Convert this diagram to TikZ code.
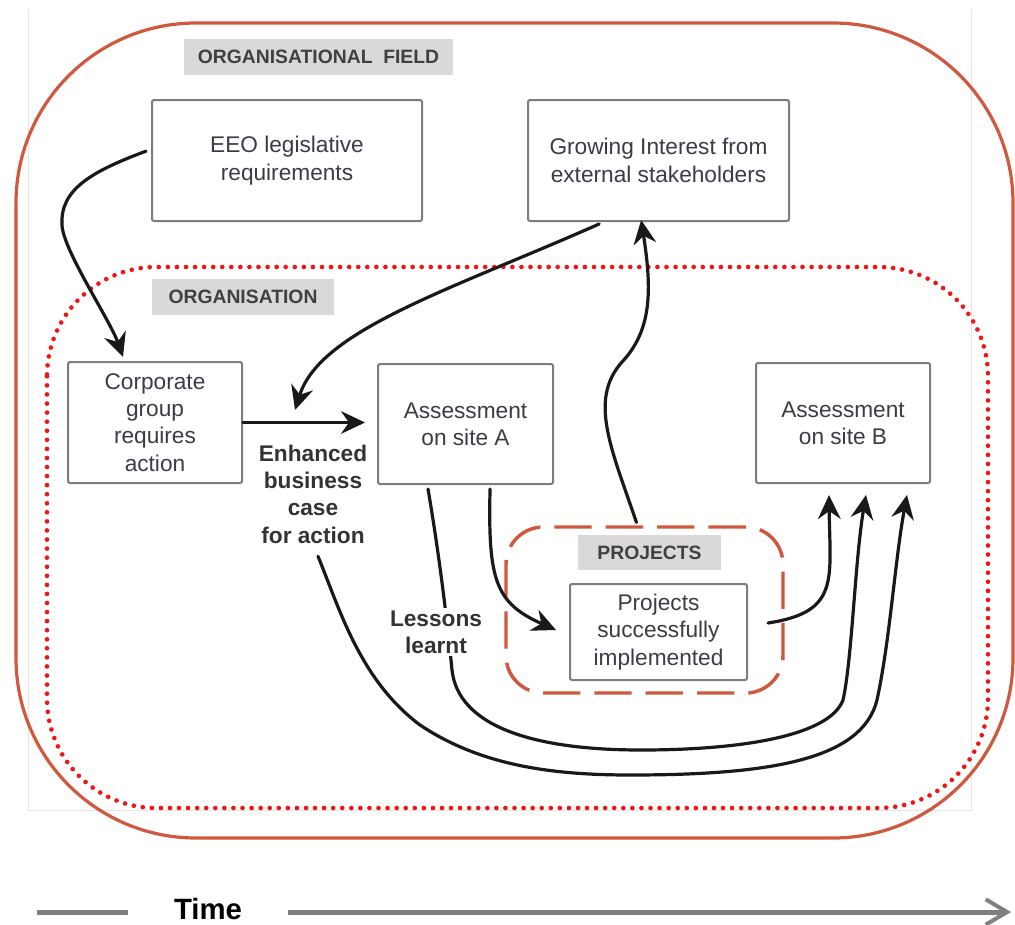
\documentclass[tikz,border=0pt]{standalone}
\usepackage{fontspec}
\setmainfont{Liberation Sans}
\usetikzlibrary{arrows.meta,calc}
\definecolor{fieldred}{RGB}{208,88,62}
\definecolor{dotred}{RGB}{240,22,22}
\definecolor{boxline}{RGB}{125,125,125}
\definecolor{boxtext}{RGB}{60,60,70}
\definecolor{tagfill}{RGB}{217,217,217}
\definecolor{tagtext}{RGB}{64,64,64}
\definecolor{timegray}{RGB}{128,128,128}
\begin{document}
\begin{tikzpicture}[x=0.75pt,y=-0.75pt,
  box/.style={draw=boxline,line width=1.5pt,rounded corners=1.5pt,fill=white,align=center,
    inner sep=0pt,font=\fontsize{17}{20.5}\selectfont,text=boxtext},
  tag/.style={fill=tagfill,inner sep=0pt,font=\fontsize{14.5}{17}\selectfont\bfseries,text=tagtext},
  note/.style={align=center,inner sep=0pt,font=\fontsize{17}{20.5}\selectfont\bfseries,text=black!80},
  flow/.style={draw=black!90,line width=2.4pt,line cap=round,
    -{Stealth[length=18pt,width=17pt,inset=6pt]}},
]
\useasboundingbox (0,0) rectangle (1015,925);

% faint border of the drawing area
\draw[black!10,line width=0.75pt] (28,9) -- (28,810) -- (971,810) -- (971,9);

% organisational field (solid) and organisation (dotted)
\draw[fieldred,line width=2.4pt,rounded corners=135pt] (16,23) rectangle (1013,838);
\draw[dotred,line width=3.5pt,line cap=round,dash pattern=on 0pt off 6.8pt,rounded corners=82pt]
  (47,267) rectangle (988,808);

% projects frame
\node[draw=fieldred,line width=2.6pt,dash pattern=on 28pt off 10.5pt,rounded corners=28pt,
  minimum width=207.75pt,minimum height=124.5pt,inner sep=0pt] (projframe) at (644.5,610) {};

% section tags
\node[tag,minimum width=201.75pt,minimum height=27pt] (tagfield) at (318.5,57) {ORGANISATIONAL\ \ FIELD};
\node[tag,minimum width=136.5pt,minimum height=27pt] (tagorg) at (243,297) {ORGANISATION};
\node[tag,minimum width=107.25pt,minimum height=26.25pt] (tagproj) at (649.5,552.5) {PROJECTS};

% boxes
\node[box,minimum width=202.5pt,minimum height=90.75pt] (eeo) at (287,160.5)
  {EEO legislative\\requirements};
\node[box,minimum width=195.75pt,minimum height=90.75pt] (grow) at (658.5,160.5)
  {Growing Interest from\\external stakeholders};
\node[box,minimum width=130.5pt,minimum height=90.75pt] (corp) at (155,422.5)
  {Corporate\\group\\requires\\action};
\node[box,minimum width=131.25pt,minimum height=90pt] (assessA) at (465.5,424)
  {Assessment\\on site A};
\node[box,minimum width=130.5pt,minimum height=90pt] (assessB) at (843,423)
  {Assessment\\on site B};
\node[box,minimum width=132.75pt,minimum height=72pt] (proj) at (658.5,632)
  {Projects\\successfully\\implemented};

% free-standing label
\node[note,minimum height=93pt] (enh) at (313,494) {Enhanced\\business\\case\\for action};
\coordinate (enhtip) at (295,410);

% connectors
\draw[flow] ([xshift=-3.75pt,yshift=7pt]eeo.west)
  .. controls (90,172) and (60,190) .. (62,225)
  .. controls (63,250) and (110,320) .. ([xshift=-24pt,yshift=3pt]corp.north);
\draw[flow] ([xshift=-44.5pt,yshift=-1.5pt]grow.south)
  .. controls (450,290) and (320,330) .. (enhtip);
\draw[flow,shorten >=9pt] (corp.east) -- (corp.east -| assessA.west);
\draw[flow] ([xshift=-6pt,yshift=2pt]projframe.north)
  .. controls (612,450) and (588,400) .. (622,362)
  .. controls (652,330) and (652,290) .. ([xshift=-13pt,yshift=1.5pt]grow.south);
\draw[flow] ([xshift=18.4pt,yshift=-3pt]assessA.south)
  .. controls (488,580) and (495,603) .. ([xshift=-9.75pt,yshift=1.5pt]proj.west);
\draw[flow] ([xshift=15pt,yshift=6.75pt]proj.east)
  .. controls (840,612) and (830,580) .. ([xshift=-10.5pt,yshift=-8.25pt]assessB.south);
\draw[flow] ([xshift=-28.1pt,yshift=-3pt]assessA.south)
  .. controls (440,560) and (447,620) .. (452,670)
  .. controls (458,725) and (530,750) .. (641,750)
  .. controls (745,750) and (830,735) .. (843,700)
  .. controls (852,660) and (855,560) .. ([xshift=17.25pt,yshift=-8.25pt]assessB.south);
\draw[flow] ([xshift=3.75pt]enh.south)
  .. controls (340,610) and (360,680) .. (420,725)
  .. controls (480,765) and (550,775) .. (630,775)
  .. controls (770,775) and (862,760) .. (877,700)
  .. controls (890,640) and (895,560) .. ([xshift=48pt,yshift=-8.25pt]assessB.south);
\node[note,fill=white,inner sep=2pt] (lessons) at (436,632) {Lessons\\learnt};

% time axis
\node[font=\fontsize{22}{26}\selectfont\bfseries,inner sep=0pt] (time) at (208,909) {Time};
\coordinate (t0) at (37,912);
\coordinate (t1) at (128,912);
\coordinate (t2) at (288,912);
\coordinate (t3) at (1011,912);
\draw[timegray,line width=3.75pt] (t0) -- (t1);
\draw[timegray,line width=3.75pt,-{Straight Barb[length=16pt,width=19pt,line width=3pt]}] (t2) -- (t3);
\end{tikzpicture}
\end{document}
